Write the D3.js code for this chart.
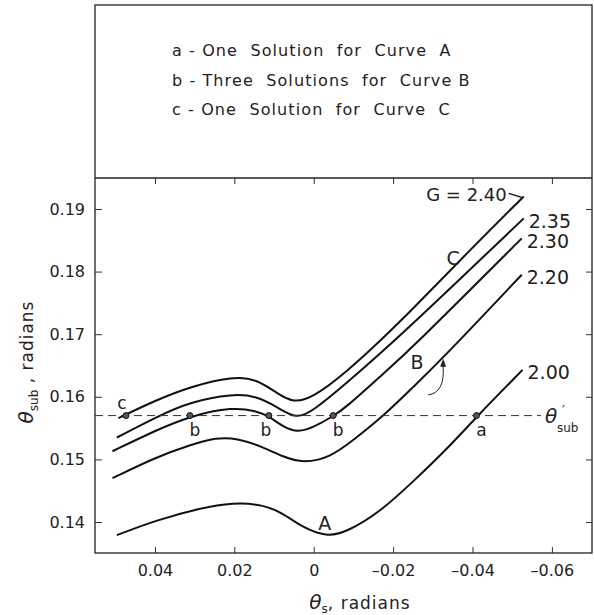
<!DOCTYPE html>
<html>
<head>
<meta charset="utf-8">
<script src="https://cdn.jsdelivr.net/npm/d3@7"></script>
<style>
  body { margin: 0; background: #fff; }
  svg text { font-family: "DejaVu Sans", sans-serif; fill: #222; }
</style>
</head>
<body>
<div id="graph"></div>
<script>
// values (theta_s, theta_sub) in radians
const curveG = ["2.40", "2.35", "2.30", "2.20", "2.00"];
const curve240 = [[0.0492,0.1566],[0.0396,0.1595],[0.0312,0.1616],[0.0203,0.1633],[0.0144,0.1628],[0.0093,0.1606],[0.0052,0.1590],[0.0001,0.1599],[-0.0083,0.1640],[-0.0167,0.1689],[-0.0251,0.1741],[-0.0385,0.1829],[-0.0529,0.1920]];
const curve235 = [[0.0496,0.1535],[0.0396,0.1568],[0.0312,0.1592],[0.0203,0.1605],[0.0144,0.1601],[0.0093,0.1584],[0.0043,0.1564],[0.0001,0.1578],[-0.0083,0.1622],[-0.0167,0.1669],[-0.0251,0.1717],[-0.0529,0.1885]];
const curve230 = [[0.0507,0.1513],[0.0396,0.1547],[0.0312,0.1569],[0.0203,0.1584],[0.0144,0.1577],[0.0113,0.1569],[0.0077,0.1552],[0.0040,0.1543],[0.0001,0.1551],[-0.0049,0.1569],[-0.0083,0.1584],[-0.0167,0.1632],[-0.0251,0.1680],[-0.0524,0.1853]];
const curve220 = [[0.0507,0.1470],[0.0396,0.1504],[0.0312,0.1523],[0.0245,0.1535],[0.0194,0.1534],[0.0128,0.1520],[0.0077,0.1504],[0.0027,0.1494],[-0.0041,0.1503],[-0.0100,0.1531],[-0.0175,0.1569],[-0.0251,0.1616],[-0.0326,0.1662],[-0.0524,0.1795]];
const curve200 = [[0.0496,0.1379],[0.0396,0.1403],[0.0287,0.1422],[0.0203,0.1431],[0.0128,0.1428],[0.0077,0.1414],[0.0030,0.1392],[-0.0033,0.1376],[-0.0083,0.1384],[-0.0167,0.1416],[-0.0251,0.1465],[-0.0335,0.1516],[-0.0410,0.1568],[-0.0526,0.1643]];
const thetaSubPrime = 0.157;
const solutionX = [0.0473, 0.0312, 0.0113, -0.0049, -0.0410];
const solutionLetter = ["c", "b", "b", "b", "a"];
const xTicks = [0.04, 0.02, 0, -0.02, -0.04, -0.06];
const yTicks = [0.14, 0.15, 0.16, 0.17, 0.18, 0.19];
const legendLines = ["a - One  Solution  for  Curve  A", "b - Three  Solutions  for  Curve B", "c - One  Solution  for  Curve  C"];
const curveLetters = [["C", -0.0351, 0.1822], ["B", -0.0260, 0.1656], ["A", -0.0028, 0.1398]];

const W = 594, H = 615;
const box = {left: 95, right: 592, top: 5, mid: 178, bottom: 553};

const svg = d3.select('#graph').append('svg')
    .attr('width', W).attr('height', H);

// reversed x axis: positive theta_s on the left
const x = d3.scaleLinear().domain([0.0551, -0.0701]).range([box.left, box.right]);
const y = d3.scaleLinear().domain([0.13505, 0.19495]).range([box.bottom, box.mid]);

// frame + legend box
svg.append('rect')
    .attr('x', box.left).attr('y', box.top)
    .attr('width', box.right - box.left).attr('height', box.bottom - box.top)
    .attr('fill', 'none').attr('stroke', '#222').attr('stroke-width', 1.3);
svg.append('line')
    .attr('x1', box.left).attr('x2', box.right)
    .attr('y1', box.mid).attr('y2', box.mid)
    .attr('stroke', '#222').attr('stroke-width', 1.3);

svg.append('g').selectAll('text')
    .data(legendLines).enter().append('text')
    .attr('x', 172).attr('y', (d, i) => 56 + i * 29.5)
    .style('font-size', '16px').style('letter-spacing', '1.1px')
    .style('white-space', 'pre')
    .text(d => d);

const fmt = d => d === 0 ? '0' : (d < 0 ? '\u2013' : '') + Math.abs(d).toFixed(2);

// axes, ticks pointing inward
svg.append('g').attr('transform', `translate(0,${box.bottom})`)
    .call(d3.axisBottom(x).tickValues(xTicks).tickSizeInner(-6).tickSizeOuter(0).tickPadding(12).tickFormat(fmt));
svg.append('g').attr('transform', `translate(${box.left},0)`)
    .call(d3.axisLeft(y).tickValues(yTicks).tickSizeInner(-7).tickSizeOuter(0).tickPadding(10).tickFormat(d => d.toFixed(2)));
svg.append('g').attr('transform', `translate(0,${box.mid})`)
    .call(d3.axisTop(x).tickValues(xTicks).tickSizeInner(-6).tickSizeOuter(0).tickFormat(''));
svg.append('g').attr('transform', `translate(${box.right},0)`)
    .call(d3.axisRight(y).tickValues(yTicks).tickSizeInner(-6).tickSizeOuter(0).tickFormat(''));

svg.selectAll('.domain').remove();
svg.selectAll('.tick line').attr('stroke', '#333');
svg.selectAll('.tick text').style('font-size', '16px').style('font-family', '"DejaVu Sans", sans-serif').attr('fill', '#222');

// axis titles
const xt = svg.append('text').attr('x', 360).attr('y', 609)
    .attr('text-anchor', 'middle').style('font-size', '17px');
xt.append('tspan').style('font-style', 'italic').style('font-size', '20px').text('θ');
xt.append('tspan').attr('dy', 4).style('font-size', '12px').text('s');
xt.append('tspan').attr('dy', -4).style('letter-spacing', '1px').text(',  radians');

const yt = svg.append('text')
    .attr('transform', 'translate(33,362) rotate(-90)')
    .attr('text-anchor', 'middle').style('font-size', '17px');
yt.append('tspan').style('font-style', 'italic').style('font-size', '20px').text('θ');
yt.append('tspan').attr('dy', 5).style('font-size', '12px').text('sub');
yt.append('tspan').attr('dy', -5).style('letter-spacing', '1px').text(' ,  radians');

// curves
const line = d3.line()
    .x(d => x(d[0])).y(d => y(d[1]))
    .curve(d3.curveBasis);
const curves = [curve240, curve235, curve230, curve220, curve200];
svg.append('g').selectAll('path')
    .data(curves).enter().append('path')
    .attr('d', line)
    .attr('fill', 'none').attr('stroke', '#111').attr('stroke-width', 2);

// G labels at curve ends
svg.append('g').selectAll('text')
    .data(curves.slice(1)).enter().append('text')
    .attr('x', d => x(d[d.length - 1][0]) + 5)
    .attr('y', d => y(d[d.length - 1][1]) + 4)
    .attr('dominant-baseline', 'middle')
    .style('font-size', '19px')
    .text((d, i) => curveG[i + 1]);
const end240 = curve240[curve240.length - 1];
svg.append('text')
    .attr('x', x(end240[0]) - 17).attr('y', y(end240[1]) + 5)
    .attr('text-anchor', 'end').style('font-size', '18px')
    .text('G = ' + curveG[0]);
svg.append('line')
    .attr('x1', x(end240[0]) - 15).attr('y1', y(end240[1]) - 3)
    .attr('x2', x(end240[0]) - 2).attr('y2', y(end240[1]) + 1)
    .attr('stroke', '#111').attr('stroke-width', 1.3);

// dashed theta'_sub line
svg.append('line')
    .attr('x1', box.left).attr('x2', 541)
    .attr('y1', y(thetaSubPrime)).attr('y2', y(thetaSubPrime))
    .attr('stroke', '#333').attr('stroke-width', 1)
    .attr('stroke-dasharray', '8,5');
const ty = y(thetaSubPrime);
svg.append('text').attr('x', 545).attr('y', ty + 7)
    .style('font-size', '20px').style('font-style', 'italic').text('θ');
svg.append('text').attr('x', 562).attr('y', ty - 2)
    .style('font-size', '13px').text('\u2032');
svg.append('text').attr('x', 557).attr('y', ty + 16)
    .style('font-size', '12px').text('sub');

// solution points
svg.append('g').selectAll('circle')
    .data(solutionX).enter().append('circle')
    .attr('cx', d => x(d)).attr('cy', y(thetaSubPrime))
    .attr('r', 3).attr('fill', '#555').attr('stroke', '#111').attr('stroke-width', 1);
svg.append('g').selectAll('text')
    .data(solutionX).enter().append('text')
    .attr('x', (d, i) => x(d) + (i === 0 ? -4 : (i === 2 ? -3 : 5)))
    .attr('y', (d, i) => y(thetaSubPrime) + (i === 0 ? -7 : 20))
    .attr('text-anchor', 'middle')
    .style('font-size', '17px')
    .text((d, i) => solutionLetter[i]);

// curve letters
svg.append('g').selectAll('text')
    .data(curveLetters).enter().append('text')
    .attr('x', d => x(d[1])).attr('y', d => y(d[2]) + 7)
    .attr('text-anchor', 'middle')
    .style('font-size', '19px')
    .text(d => d[0]);

// leader from B to curve 2.30
const bTip = [-0.0326, 0.1659];
const bx = x(bTip[0]), by = y(bTip[1]);
svg.append('path')
    .attr('d', `M${bx - 15},${by + 35} Q${bx + 2},${by + 33} ${bx},${by + 6}`)
    .attr('fill', 'none').attr('stroke', '#222').attr('stroke-width', 1);
svg.append('path')
    .attr('d', `M${bx - 3},${by + 7} L${bx},${by - 1} L${bx + 3},${by + 7} Z`)
    .attr('fill', '#222');
</script>
</body>
</html>
